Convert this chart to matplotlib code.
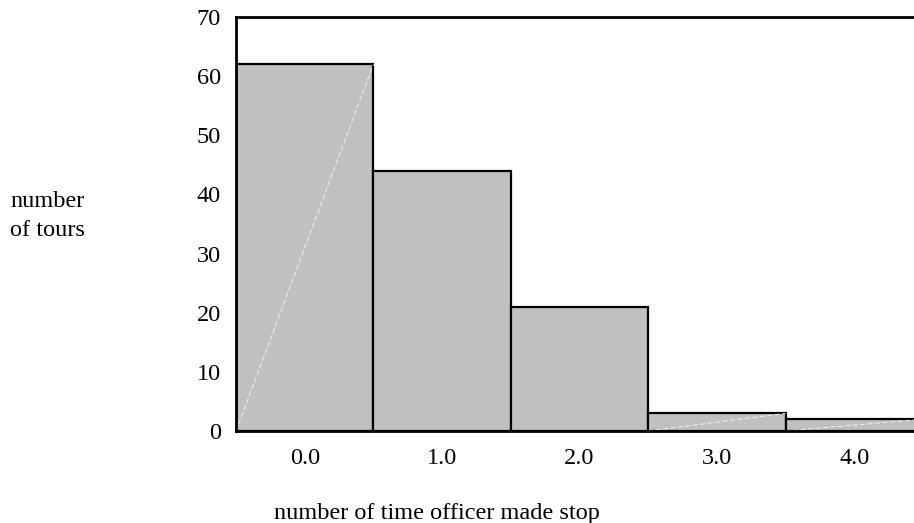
import matplotlib
matplotlib.use("Agg")
import matplotlib.pyplot as plt

categories = [0.0, 1.0, 2.0, 3.0, 4.0]
tick_labels = ["0.0", "1.0", "2.0", "3.0", "4.0"]
counts = [62, 44, 21, 3, 2]
y_ticks = [0, 10, 20, 30, 40, 50, 60, 70]

plt.rcParams['font.family'] = ['Liberation Serif', 'DejaVu Serif']

fig = plt.figure(figsize=(9.14, 5.23), dpi=100)
ax = fig.add_axes([236/914, 1 - 431/523, (923-236)/914, (431-17)/523])

bars = ax.bar(categories, counts, width=1.0, color="#c0c0c0",
              edgecolor="black", linewidth=1.6, zorder=2)

# faint white diagonal artifacts seen in the reference on some bars
for i in (0, 3, 4):
    x0 = categories[i] - 0.5
    x1 = categories[i] + 0.5
    ax.plot([x0, x1], [0, counts[i]], color="white", linewidth=0.6,
            linestyle=(0, (6, 3)), alpha=0.9, zorder=3)

ax.set_xlim(-0.5, 4.5)
ax.set_ylim(0, 70)
ax.set_xticks(categories)
ax.set_xticklabels(tick_labels)
ax.set_yticks(y_ticks)
ax.tick_params(axis='both', length=0, labelsize=17.5)
ax.tick_params(axis='x', pad=12)
ax.tick_params(axis='y', pad=11)
for s in ("left", "top", "bottom"):
    ax.spines[s].set_linewidth(2)
    ax.spines[s].set_zorder(4)
ax.spines["right"].set_visible(False)

fig.text(10/914, 1 - 216/523, "number\nof tours", fontsize=17.5,
         ha="left", va="center", linespacing=1.45)
fig.text(437/914, 1 - 513/523, "number of time officer made stop",
         fontsize=17.5, ha="center", va="center")

fig.savefig("out.png", dpi=100)
